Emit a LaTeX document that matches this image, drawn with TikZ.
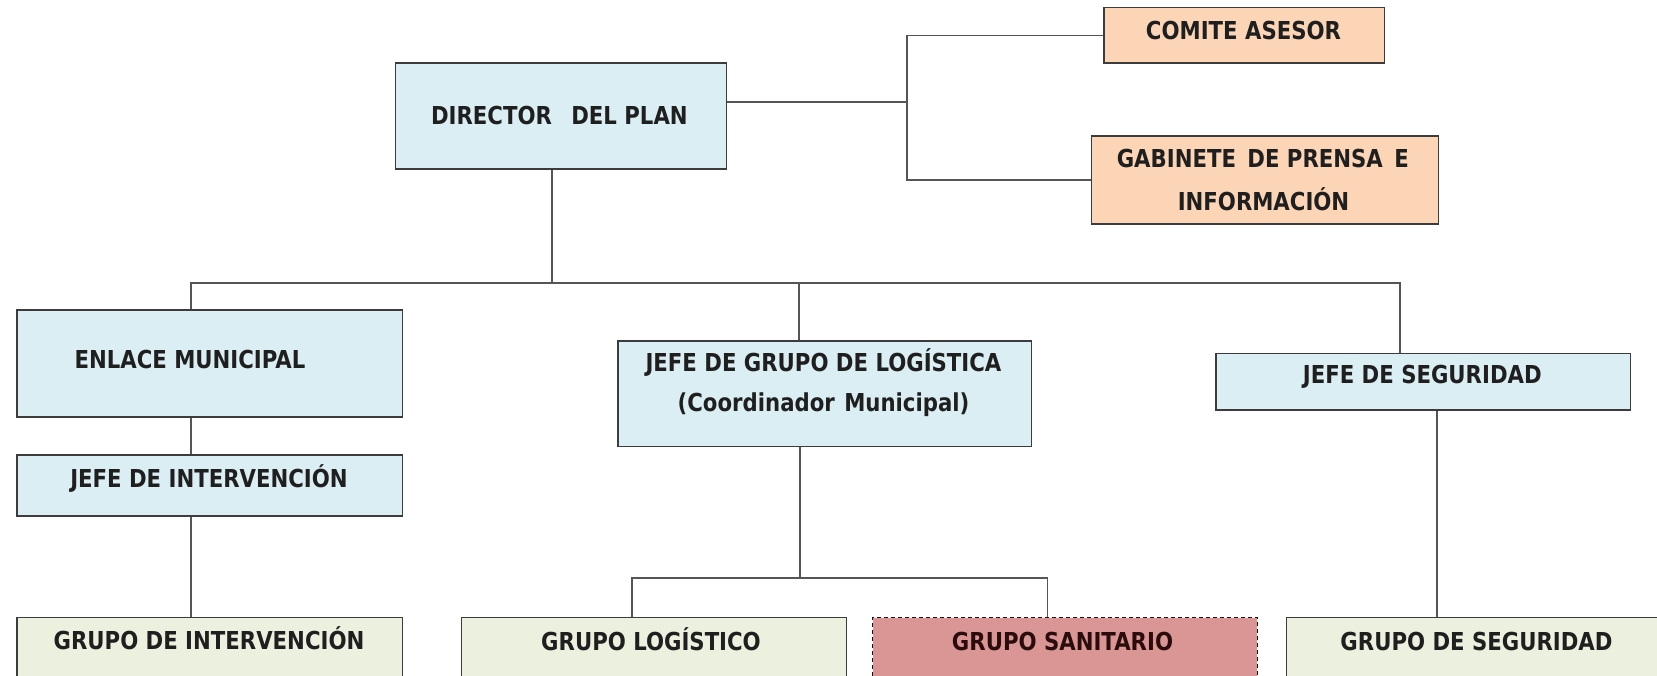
\documentclass[tikz,border=0pt]{standalone}
\usepackage{fontspec}
\newfontfamily\boxfont{DejaVu Sans}[FakeStretch=0.86]
\definecolor{bluef}{HTML}{DBEEF4}
\definecolor{orangef}{HTML}{FBD5B5}
\definecolor{greenf}{HTML}{EBF1DE}
\definecolor{redf}{HTML}{D99694}
\definecolor{edgec}{HTML}{3C3C3C}
\definecolor{connc}{HTML}{555555}
\definecolor{redtxt}{HTML}{2A0C0C}
\begin{document}
\begin{tikzpicture}[x=1pt,y=-1pt,
  box/.style={draw=edgec, line width=1.5pt, rectangle, inner sep=0pt, anchor=north west},
  bluebox/.style={box, fill=bluef},
  orangebox/.style={box, fill=orangef},
  greenbox/.style={box, fill=greenf},
  redbox/.style={box, fill=redf, draw=redtxt, line width=1.7pt, dash pattern=on 4.5pt off 2.5pt},
  txt/.style={font=\boxfont\bfseries\fontsize{24.7}{30}\selectfont, text=black!88, inner sep=0pt, anchor=base},
  conn/.style={draw=connc, line width=1.3pt}]
\useasboundingbox (0,0) rectangle (1657,675);
\clip (0,0) rectangle (1657,675);

% boxes
\node[bluebox, minimum width=331pt, minimum height=106pt] (dir) at (394.5,62) {};
\node[orangebox, minimum width=280.7pt, minimum height=55.6pt] (com) at (1103,6.7) {};
\node[orangebox, minimum width=347.2pt, minimum height=88.3pt] (gab) at (1090.5,135) {};
\node[bluebox, minimum width=385.8pt, minimum height=106.7pt] (enl) at (16,309.3) {};
\node[bluebox, minimum width=385.8pt, minimum height=61pt] (jint) at (16,454.3) {};
\node[bluebox, minimum width=413.4pt, minimum height=105.7pt] (jlog) at (617.3,340) {};
\node[bluebox, minimum width=414.5pt, minimum height=56.8pt] (jseg) at (1215,352.5) {};
\node[greenbox, minimum width=385.8pt, minimum height=100pt] (gint) at (16,616.7) {};
\node[greenbox, minimum width=385.2pt, minimum height=100pt] (glog) at (460.5,616.7) {};
\node[redbox, minimum width=384.9pt, minimum height=100pt] (gsan) at (871.7,616.7) {};
\node[greenbox, minimum width=382.5pt, minimum height=100pt] (gseg) at (1285.5,616.7) {};

% texts
\node[txt] (tdir) at (559.4,124) {DIRECTOR\hspace{12pt} DEL PLAN};
\node[txt] (tcom) at (1243.5,39) {COMITE ASESOR};
\node[txt] (tgab1) at (1262.8,167) {GABINETE\hspace{4pt} DE PRENSA\hspace{4pt} E};
\node[txt] (tgab2) at (1263.5,210.7) {INFORMACIÓN};
\node[txt] (tenl) at (190,368.3) {ENLACE MUNICIPAL};
\node[txt] (tjint) at (209,487.3) {JEFE DE INTERVENCIÓN};
\node[txt] (tgint) at (209,649.5) {GRUPO DE INTERVENCIÓN};
\node[txt] (tjlog1) at (823.5,371.7) {JEFE DE GRUPO DE LOGÍSTICA};
\node[txt] (tjlog2) at (823.5,411) {(Coordinador\hspace{2pt} Municipal)};
\node[txt] (tjseg) at (1422.3,383.3) {JEFE DE SEGURIDAD};
\node[txt] (tglog) at (651,650) {GRUPO LOGÍSTICO};
\node[txt, text=redtxt] (tgsan) at (1062.5,650) {GRUPO SANITARIO};
\node[txt] (tgseg) at (1476.5,650) {GRUPO DE SEGURIDAD};

% connectors
\coordinate (jx) at (907,102);
\draw[conn] (dir.east |- jx) -- (jx);
\draw[conn] (com.west) -| (jx) |- (gab.west);
\coordinate (bus) at (552,283);
\draw[conn] (dir.south -| bus) -- (bus);
\coordinate (bL) at (191,283);
\coordinate (bR) at (1400,283);
\coordinate (bM) at (799,283);
\draw[conn] (enl.north -| bL) -- (bL) -- (bR) -- (jseg.north -| bR);
\draw[conn] (bM) -- (jlog.north -| bM);
\draw[conn] (enl.south -| bL) -- (jint.north -| bL);
\draw[conn] (jint.south -| bL) -- (gint.north -| bL);
\coordinate (lj) at (800,578);
\coordinate (lL) at (632,578);
\coordinate (lR) at (1047.5,578);
\draw[conn] (jlog.south -| lj) -- (lj);
\draw[conn] (glog.north -| lL) -- (lL) -- (lR) -- (gsan.north -| lR);
\coordinate (sj) at (1437,420);
\draw[conn] (jseg.south -| sj) -- (gseg.north -| sj);
\end{tikzpicture}
\end{document}
